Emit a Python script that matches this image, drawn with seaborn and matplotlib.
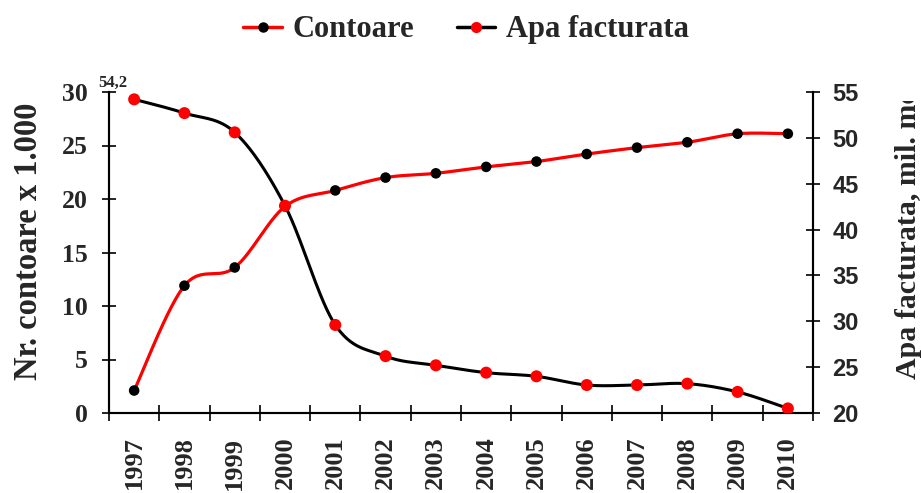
import numpy as np
import pandas as pd
import matplotlib
matplotlib.use("Agg")
import matplotlib.pyplot as plt
from matplotlib.lines import Line2D
from matplotlib.transforms import Bbox
import seaborn as sns

years = ["1997", "1998", "1999", "2000", "2001", "2002", "2003",
         "2004", "2005", "2006", "2007", "2008", "2009", "2010"]
contoare = [2.1, 11.9, 13.6, 19.3, 20.8, 22.0, 22.4, 23.0, 23.5, 24.2, 24.8, 25.3, 26.1, 26.1]
apa_facturata = [54.2, 52.7, 50.6, 42.6, 29.6, 26.2, 25.2, 24.4, 24.0, 23.05, 23.05, 23.2, 22.3, 20.5]
left_ticks = [0, 5, 10, 15, 20, 25, 30]
right_ticks = [20, 25, 30, 35, 40, 45, 50, 55]

sns.set_theme(style="ticks")
plt.rcParams["font.family"] = ["Liberation Serif", "DejaVu Serif"]
plt.rcParams["font.weight"] = "bold"


def smooth_path(xs, ys, n=30):
    """Excel-like smoothed line path (Bezier through the points), rendering only."""
    xs = np.asarray(xs, float)
    ys = np.asarray(ys, float)
    P = np.column_stack([xs, ys])
    m = len(P)
    out = []
    for i in range(m - 1):
        p0 = P[i - 1] if i > 0 else P[i]
        p1 = P[i]
        p2 = P[i + 1]
        p3 = P[i + 2] if i + 2 < m else P[i + 1]
        c1 = p1 + (p2 - p0) / 6.0
        c2 = p2 - (p3 - p1) / 6.0
        t = np.linspace(0, 1, n, endpoint=(i == m - 2))[:, None]
        seg = ((1 - t) ** 3) * p1 + 3 * ((1 - t) ** 2) * t * c1 + 3 * (1 - t) * t ** 2 * c2 + t ** 3 * p2
        out.append(seg)
    out = np.vstack(out)
    return out[:, 0], out[:, 1]


W, H = 921, 493
fig = plt.figure(figsize=(W / 100, H / 100), dpi=100)
ax = fig.add_axes([109 / W, 1 - 413 / H, (813 - 109) / W, (413 - 92) / H])
ax2 = ax.twinx()

xpos = np.arange(len(years))
df = pd.DataFrame({"x": xpos, "contoare": contoare, "apa": apa_facturata})

sx, sy = smooth_path(xpos, contoare)
sns.lineplot(x=sx, y=sy, ax=ax, color="#ff0000", linewidth=2.3, sort=False, estimator=None)
sns.scatterplot(data=df, x="x", y="contoare", ax=ax, color="black", s=58, edgecolor="none", zorder=5)

sx2, sy2 = smooth_path(xpos, apa_facturata)
sns.lineplot(x=sx2, y=sy2, ax=ax2, color="black", linewidth=2.2, sort=False, estimator=None)
sns.scatterplot(data=df, x="x", y="apa", ax=ax2, color="#ff0000", s=75, edgecolor="none", zorder=5)

for a in (ax, ax2):
    a.set_xlim(-0.5, len(years) - 0.5)
    a.set_xlabel("")
    a.spines["top"].set_visible(False)
    for s in a.spines.values():
        s.set_linewidth(1.5)
        s.set_color("black")

ax.set_ylim(0, 30)
ax2.set_ylim(20, 55)
ax.set_yticks(left_ticks)
ax2.set_yticks(right_ticks)
ax.set_ylabel("")
ax2.set_ylabel("")

ax.set_xticks(xpos)
ax.set_xticklabels(years, rotation=90, fontsize=19, fontweight="bold", va="top")
ax.set_xticks(np.arange(len(years) + 1) - 0.5, minor=True)
ax.tick_params(axis="x", which="major", length=0, pad=17)
ax.tick_params(axis="x", which="minor", length=11, width=1.2, direction="inout", color="black")
ax.tick_params(axis="y", length=10, width=1.2, direction="inout", pad=10, labelsize=18.5, color="black")
for lb in ax.get_yticklabels():
    lb.set_fontweight("bold")
    lb.set_family(["Liberation Serif"])
ax2.tick_params(axis="y", length=10, width=1.2, direction="inout", pad=9, labelsize=17, color="black")
for lb in ax2.get_yticklabels():
    lb.set_fontweight("bold")
    lb.set_family(["Liberation Sans"])
ax2.tick_params(axis="x", which="both", length=0)
ax.grid(False)
ax2.grid(False)

# axis titles
fig.text(37 / W, 1 - 241 / H, "Nr. contoare x 1.000", rotation=90, rotation_mode="anchor",
         ha="center", va="baseline", fontsize=23.5, fontweight="bold")
t = fig.text(916 / W, 1 - 379 / H, "Apa facturata, mil. mc", rotation=90, rotation_mode="anchor",
             ha="left", va="baseline", fontsize=21.5, fontweight="bold")
t.set_clip_box(Bbox([[0, 0], [W, H - 101]]))
t.set_clip_on(True)

# value annotation for first point
fig.text(113 / W, 1 - 83 / H, "54,2", ha="center", va="center", fontsize=12, fontweight="bold")

handles = [
    Line2D([], [], color="#ff0000", lw=2.5, marker="o", markerfacecolor="black",
           markeredgecolor="black", markersize=6.5),
    Line2D([], [], color="black", lw=2.5, marker="o", markerfacecolor="#ff0000",
           markeredgecolor="#ff0000", markersize=7),
]
fig.legend(handles, ["Contoare", "Apa facturata"], loc="upper center",
           bbox_to_anchor=(466 / W, 1.0), ncol=2, frameon=False, numpoints=1,
           prop={"family": "Liberation Serif", "weight": "bold", "size": 22},
           handlelength=1.25, handletextpad=0.35, columnspacing=1.4, borderaxespad=0.1)

fig.savefig("out.png", dpi=100)
